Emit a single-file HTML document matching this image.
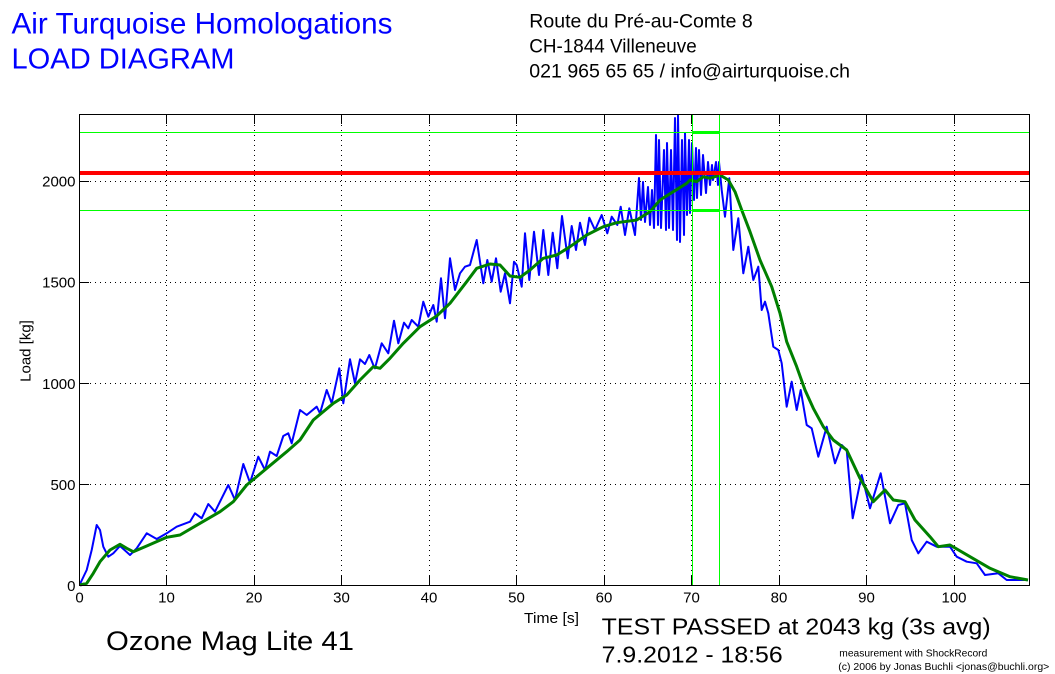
<!DOCTYPE html>
<html><head><meta charset="utf-8"><style>
html,body{margin:0;padding:0;background:#fff;}
svg{display:block;}
text{font-family:"Liberation Sans",Arial,sans-serif;}
</style></head><body>
<svg width="1055" height="674" viewBox="0 0 1055 674" xmlns="http://www.w3.org/2000/svg">
<rect x="0" y="0" width="1055" height="674" fill="#fff"/>
<!-- header -->
<text x="11.5" y="33.3" font-size="29.5" fill="#0000ff" textLength="381" lengthAdjust="spacingAndGlyphs">Air Turquoise Homologations</text>
<text x="11.5" y="68.3" font-size="29" fill="#0000ff" textLength="223" lengthAdjust="spacingAndGlyphs">LOAD DIAGRAM</text>
<text x="529.3" y="27.3" font-size="19.5" fill="#000" textLength="223.4" lengthAdjust="spacingAndGlyphs">Route du Pré-au-Comte 8</text>
<text x="529.3" y="52.7" font-size="19.5" fill="#000" textLength="167.4" lengthAdjust="spacingAndGlyphs">CH-1844 Villeneuve</text>
<text x="529.3" y="77.7" font-size="19.5" fill="#000" textLength="320.7" lengthAdjust="spacingAndGlyphs">021 965 65 65 / info@airturquoise.ch</text>

<!-- grid -->
<g stroke="#000" stroke-width="1" stroke-dasharray="1,4" fill="none">
<line x1="166.5" y1="115" x2="166.5" y2="585"/>
<line x1="254.5" y1="115" x2="254.5" y2="585"/>
<line x1="341.5" y1="115" x2="341.5" y2="585"/>
<line x1="429.5" y1="115" x2="429.5" y2="585"/>
<line x1="516.5" y1="115" x2="516.5" y2="585"/>
<line x1="604.5" y1="115" x2="604.5" y2="585"/>
<line x1="691.5" y1="115" x2="691.5" y2="585"/>
<line x1="779.5" y1="115" x2="779.5" y2="585"/>
<line x1="866.5" y1="115" x2="866.5" y2="585"/>
<line x1="954.5" y1="115" x2="954.5" y2="585"/>
<line x1="80" y1="181.5" x2="1029" y2="181.5"/>
<line x1="80" y1="282.5" x2="1029" y2="282.5"/>
<line x1="80" y1="383.5" x2="1029" y2="383.5"/>
<line x1="80" y1="484.5" x2="1029" y2="484.5"/>
</g>

<!-- blue raw data -->
<polyline fill="none" stroke="#0000ff" stroke-width="2" stroke-linejoin="round" points="80,584 86.7,570 91.7,550 96.7,525 100,530 103.3,546.7 108.3,556.7 113.3,553.3 120,546 130,555 136.7,548.3 146.7,533.3 156.7,539 166.7,533.3 176.7,526.7 190,521.7 195,513.3 201.7,518.3 208.3,504 215,511.7 228.3,485 235,500 243.3,464 250,482.7 258.3,456.7 265,470 270,451.7 276.7,456 283.3,436 288.3,433.3 291.7,443.3 300,410 306.7,415 316.7,406.7 320,413.3 326.7,390 331.7,403.3 339.3,368.3 343.3,403.3 350,359.3 355,383.3 360,359.3 365,364 369.3,355 373.3,365 375,368.3 381.7,343.3 388.3,353.3 394,320.7 398.3,343.3 404,322.7 408.3,328.3 411.7,320 418.3,326.7 423.3,301.7 428.3,316.7 433.3,305 436.7,321.7 441,278.3 445,318.3 450,258.3 455,290 460,273.3 465,266.7 470,265 476.7,240 483.3,283.3 487.3,260 491.7,281.7 496,258.3 500.7,291.7 505,273.3 510,303.3 514,261.7 516.7,265 521.7,286.7 525,233.3 529.3,280 534,231.7 539,275 543.3,230 548.3,275 552.7,232.7 557.3,268.3 562,216 567.7,258.3 571.7,226 576,250 580,222.7 585,245 589.3,217.7 595,230 601.7,215 607.3,233.3 611.7,216.7 617.3,225 620.7,206.7 625,235 629.3,208.3 635,235 639,178 641,220 643,182 645,222 648,187 650,225 652,190 654,228 656,135 658,225 659,140 661,228 664,150 666,230 667,143 669,228 671,150 673,230 675,118 677,240 678,115 680,242 682,140 684,235 685,133 687,215 689,140 690,213 692,143 694,200 696,148 697,198 699,150 701,195 703,155 706,193 708,162 710,185 712,165 713,180 716,162 718,185 719,162 721.7,190 725,216.7 729.3,178.3 733.3,250 738.3,218.3 743.3,273.3 748.3,246.7 753.3,280 758.3,266.7 761.7,310 765,301.7 768.3,313.3 773.3,346.7 778.3,350 781.7,363.3 786.7,406.7 791.7,381.7 796.7,410 800.7,390 806.7,425 811.7,428.3 818.3,456.7 826.7,426.7 835,463.3 841.7,445 846.7,450 852.7,518.3 861.7,475 870,508.3 880.7,473.3 890,523.3 898.3,505 905,503.3 911.7,540 918.3,553.3 926.7,541.7 936.7,546.7 950,546.7 956.7,556.7 966.7,561.7 976.7,563.3 985,575 998.3,573.3 1006.7,580 1028,580"/>

<!-- green 3s avg -->
<polyline fill="none" stroke="#008000" stroke-width="3" stroke-linejoin="round" points="80,585 86.7,583.3 93.3,573.3 100,561.7 110,550 120,544.3 126.7,548.3 133.3,551.7 146.7,546 166.7,537.3 180,535 200,523.3 220,511.7 233.3,501.7 246.7,485 266.7,468.3 286.7,451.7 300,440 313.3,420 333.3,403.3 346.7,395 360,380 373.3,366.7 380,368.3 390,358.3 403.3,343.3 420,326.7 436.7,316 450,303.3 466.7,281.7 476.7,268.3 490,264 500,265 510,276 520,277.3 530,270 543.3,258.3 556.7,255 570,246.7 586.7,235 603.3,226.7 616.7,222.7 636.7,220 650,211.7 660,200 673.3,191.7 686.7,183.3 690,180 696.7,181.7 703.3,176.7 710,178.3 720,175 728.3,180 735,191.7 741.7,210 750,231.7 760,260 771.7,286.7 780,313.3 786.7,341.7 796.7,366.7 805,390 813.3,408.3 823.3,426.7 833.3,440 846.7,450 860,478.3 873.3,501.7 885,490 893.3,500 905,501.7 915,520 930,536.7 938.3,546.7 950,545 970,556.7 990,568.3 1010,576.7 1028,580"/>

<!-- limit lines -->
<g stroke="#00ff00" fill="none">
<line x1="80" y1="132.5" x2="1029" y2="132.5" stroke-width="1"/>
<line x1="80" y1="210.5" x2="1029" y2="210.5" stroke-width="1"/>
<line x1="692.5" y1="115" x2="692.5" y2="585" stroke-width="1"/>
<line x1="719.5" y1="115" x2="719.5" y2="585" stroke-width="1"/>
<line x1="692" y1="132.5" x2="719" y2="132.5" stroke-width="3"/>
<line x1="692" y1="210.5" x2="719" y2="210.5" stroke-width="3"/>
</g>
<line x1="80" y1="173" x2="1029" y2="173" stroke="#ff0000" stroke-width="4"/>

<!-- axes box -->
<rect x="79.5" y="114.5" width="950" height="471" fill="none" stroke="#000" stroke-width="1"/>
<g stroke="#000" stroke-width="1">
<line x1="166.5" y1="585" x2="166.5" y2="576"/><line x1="166.5" y1="115" x2="166.5" y2="124"/>
<line x1="254.5" y1="585" x2="254.5" y2="576"/><line x1="254.5" y1="115" x2="254.5" y2="124"/>
<line x1="341.5" y1="585" x2="341.5" y2="576"/><line x1="341.5" y1="115" x2="341.5" y2="124"/>
<line x1="429.5" y1="585" x2="429.5" y2="576"/><line x1="429.5" y1="115" x2="429.5" y2="124"/>
<line x1="516.5" y1="585" x2="516.5" y2="576"/><line x1="516.5" y1="115" x2="516.5" y2="124"/>
<line x1="604.5" y1="585" x2="604.5" y2="576"/><line x1="604.5" y1="115" x2="604.5" y2="124"/>
<line x1="691.5" y1="585" x2="691.5" y2="576"/><line x1="691.5" y1="115" x2="691.5" y2="124"/>
<line x1="779.5" y1="585" x2="779.5" y2="576"/><line x1="779.5" y1="115" x2="779.5" y2="124"/>
<line x1="866.5" y1="585" x2="866.5" y2="576"/><line x1="866.5" y1="115" x2="866.5" y2="124"/>
<line x1="954.5" y1="585" x2="954.5" y2="576"/><line x1="954.5" y1="115" x2="954.5" y2="124"/>
<line x1="80" y1="181.5" x2="89" y2="181.5"/><line x1="1029" y1="181.5" x2="1020" y2="181.5"/>
<line x1="80" y1="282.5" x2="89" y2="282.5"/><line x1="1029" y1="282.5" x2="1020" y2="282.5"/>
<line x1="80" y1="383.5" x2="89" y2="383.5"/><line x1="1029" y1="383.5" x2="1020" y2="383.5"/>
<line x1="80" y1="484.5" x2="89" y2="484.5"/><line x1="1029" y1="484.5" x2="1020" y2="484.5"/>
</g>

<!-- tick labels -->
<g font-size="15" fill="#000" text-anchor="end">
<text x="75.5" y="591.2">0</text>
<text x="75.5" y="490">500</text>
<text x="75.5" y="388.8">1000</text>
<text x="75.5" y="287.7">1500</text>
<text x="75.5" y="186.5">2000</text>
</g>
<g font-size="15" fill="#000" text-anchor="middle">
<text x="79.5" y="602.7">0</text>
<text x="166.5" y="602.7">10</text>
<text x="254" y="602.7">20</text>
<text x="341.5" y="602.7">30</text>
<text x="429" y="602.7">40</text>
<text x="516.5" y="602.7">50</text>
<text x="604" y="602.7">60</text>
<text x="691.5" y="602.7">70</text>
<text x="779" y="602.7">80</text>
<text x="866.5" y="602.7">90</text>
<text x="954" y="602.7">100</text>
</g>
<text x="524" y="623" font-size="15" fill="#000" textLength="55" lengthAdjust="spacingAndGlyphs">Time [s]</text>
<text transform="translate(30.5,351) rotate(-90)" font-size="15" fill="#000" text-anchor="middle">Load [kg]</text>

<!-- footer -->
<text x="106" y="650" font-size="27" fill="#000" textLength="248" lengthAdjust="spacingAndGlyphs">Ozone Mag Lite 41</text>
<text x="601.7" y="634.7" font-size="23.5" fill="#000" textLength="389" lengthAdjust="spacingAndGlyphs">TEST PASSED at 2043 kg (3s avg)</text>
<text x="601.7" y="662.3" font-size="23.5" fill="#000" textLength="181" lengthAdjust="spacingAndGlyphs">7.9.2012 - 18:56</text>
<text x="839.3" y="656.7" font-size="10" fill="#000" textLength="148" lengthAdjust="spacingAndGlyphs">measurement with ShockRecord</text>
<text x="838.3" y="670" font-size="10" fill="#000" textLength="211" lengthAdjust="spacingAndGlyphs">(c) 2006 by Jonas Buchli &lt;jonas@buchli.org&gt;</text>
</svg>
</body></html>
